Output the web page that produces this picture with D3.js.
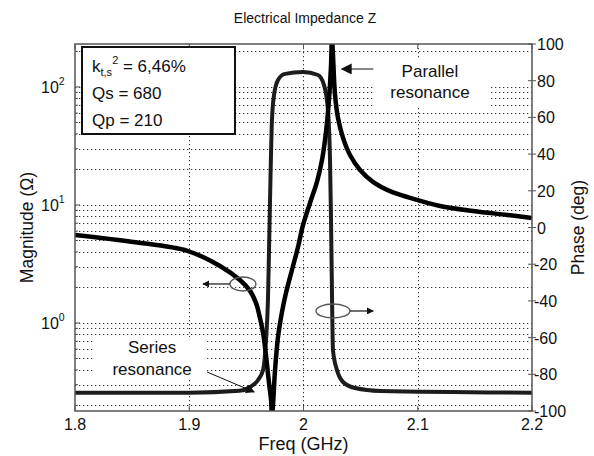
<!DOCTYPE html>
<html>
<head>
<meta charset="utf-8">
<script src="https://cdn.jsdelivr.net/npm/d3@7"></script>
<style>
	body { margin: 0; background: #fff; }
	svg text { font-family: "Liberation Sans", Arial, sans-serif; fill: #111; }
</style>
</head>
<body>
<svg id="viz"></svg>
<script>
// Magnitude |Z| (ohm)
const magFreq = [1.800, 1.8508, 1.8989, 1.9269, 1.9444, 1.9532, 1.9584, 1.9619, 1.9646, 1.9663, 1.9681, 1.9698, 1.9716, 1.9724,
	1.9733, 1.9751, 1.9777, 1.9812, 1.9847, 1.9899, 1.9952, 1.9996, 2.0057, 2.0118, 2.0162, 2.0197, 2.0223, 2.0241, 2.0249,
	2.0258, 2.0276, 2.0302, 2.0346, 2.0407, 2.0495, 2.0608, 2.0757, 2.0932, 2.1195, 2.1484, 2.1781, 2.200];
const magnitude = [5.57, 4.86, 4.07, 3.04, 2.31, 1.87, 1.48, 1.10, 0.823, 0.626, 0.441, 0.310, 0.222, 0.16,
	0.202, 0.400, 0.760, 1.24, 1.80, 2.81, 4.40, 6.77, 10.4, 15.7, 24.1, 41.6, 77.6, 153, 260,
	187, 85.5, 54.6, 37.0, 26.5, 19.8, 15.7, 13.1, 11.5, 9.81, 8.89, 8.23, 7.76];

// Phase (deg)
const phaseFreq = [1.800, 1.900, 1.944, 1.9532, 1.9602, 1.9646, 1.9672, 1.9689, 1.9707, 1.9724, 1.9742,
	1.9777, 1.9838, 1.9996, 2.0127, 2.0179, 2.0214, 2.0232, 2.0241, 2.0250, 2.0258, 2.0293, 2.0346,
	2.0451, 2.067, 2.200];
const phase = [-90, -90, -89, -86.9, -83.1, -77.7, -61.3, -39.5, 15, 58.6, 72.2,
	80.4, 83.7, 84.7, 83.1, 77.7, 64.0, 36.8, 4, -39.5, -66.8, -77.7, -84.2,
	-87.5, -89.1, -90];

const xTicks = [1.8, 1.9, 2.0, 2.1, 2.2];
const magTicks = [1, 10, 100];
const phaseTicks = [100, 80, 60, 40, 20, 0, -20, -40, -60, -80, -100];
const infoLines = ["Qs = 680", "Qp = 210"];

const width = 594, height = 456;
const margin = { top: 44, right: 62, bottom: 45, left: 75 };
const plotWidth = width - margin.left - margin.right;
const plotHeight = height - margin.top - margin.bottom;

const svg = d3.select("#viz").attr("width", width).attr("height", height);

const x = d3.scaleLinear().domain([1.8, 2.2]).range([0, plotWidth]);
const yMag = d3.scaleLog().domain([Math.pow(10, -0.746), Math.pow(10, 2.364)]).range([plotHeight, 0]);
const yPh = d3.scaleLinear().domain([-100, 100]).range([plotHeight, 0]);

svg.append("defs").append("clipPath").attr("id", "clip")
	.append("rect").attr("width", plotWidth).attr("height", plotHeight);

const plot = svg.append("g").attr("transform", translate(margin.left, margin.top));

// grid: log minor lines + freq lines
let gridVals = [];
for (let e = -1; e <= 2; e++) {
	for (let m = 1; m <= 9; m++) {
		let v = m * Math.pow(10, e);
		if (v > yMag.domain()[0] && v < yMag.domain()[1]) gridVals.push(v);
	}
}
const grid = plot.append("g").attr("id", "grid")
	.attr("stroke", "#333").attr("stroke-width", 1).attr("stroke-dasharray", "1.3,2.7");
grid.selectAll("line.h").data(gridVals).join("line").attr("class", "h")
	.attr("x1", 0).attr("x2", plotWidth)
	.attr("y1", d => Math.round(yMag(d)) + 0.5).attr("y2", d => Math.round(yMag(d)) + 0.5);
grid.selectAll("line.v").data(xTicks.slice(1, -1)).join("line").attr("class", "v")
	.attr("x1", d => Math.round(x(d)) + 0.5).attr("x2", d => Math.round(x(d)) + 0.5)
	.attr("y1", 0).attr("y2", plotHeight);

// white boxes behind the labels (they hide the grid)
plot.append("rect").attr("x", x(2.0608)).attr("y", 16).attr("width", 117).attr("height", 48).attr("fill", "#fff");
plot.append("rect").attr("x", x(1.8158)).attr("y", 293).attr("width", 114).attr("height", 43).attr("fill", "#fff");

// curves
const curves = plot.append("g").attr("clip-path", "url(#clip)");
const magLine = d3.line().x((d, i) => x(magFreq[i])).y(d => yMag(d)).curve(d3.curveCatmullRom.alpha(0.5));
const phLine = d3.line().x((d, i) => x(phaseFreq[i])).y(d => yPh(d)).curve(d3.curveMonotoneX);

curves.append("path").attr("d", phLine(phase))
	.attr("fill", "none").attr("stroke", "#1c1c1c").attr("stroke-width", 4).attr("stroke-linejoin", "round");
curves.append("path").attr("d", magLine(magnitude))
	.attr("fill", "none").attr("stroke", "#000").attr("stroke-width", 4.5).attr("stroke-linejoin", "round");

// axes box
plot.append("rect").attr("width", plotWidth).attr("height", plotHeight)
	.attr("fill", "none").attr("stroke", "#555").attr("stroke-width", 1.5);

// x ticks
const xt = plot.append("g").attr("id", "x-axis");
xt.selectAll("line.b").data(xTicks).join("line").attr("class", "b")
	.attr("x1", d => x(d)).attr("x2", d => x(d)).attr("y1", plotHeight).attr("y2", plotHeight - 5)
	.attr("stroke", "#555");
xt.selectAll("line.t").data(xTicks).join("line").attr("class", "t")
	.attr("x1", d => x(d)).attr("x2", d => x(d)).attr("y1", 0).attr("y2", 5)
	.attr("stroke", "#555");
xt.selectAll("text").data(xTicks).join("text")
	.attr("x", d => x(d)).attr("y", plotHeight + 19)
	.attr("text-anchor", "middle").attr("font-size", 16)
	.text(d => d === 2 ? "2" : d3.format(".1f")(d));

// left (log) ticks
const yl = plot.append("g").attr("id", "y-axis-left");
yl.selectAll("line").data(gridVals).join("line")
	.attr("x1", 0).attr("x2", d => magTicks.includes(d) ? 5 : 3)
	.attr("y1", d => yMag(d)).attr("y2", d => yMag(d)).attr("stroke", "#555");
const ylab = yl.selectAll("text").data(magTicks).join("text")
	.attr("x", -34).attr("y", d => yMag(d) + 6).attr("font-size", 16);
ylab.append("tspan").text("10");
ylab.append("tspan").attr("dy", -8).attr("font-size", 10.5).text(d => Math.round(Math.log10(d)));

// right (phase) ticks
const yr = plot.append("g").attr("id", "y-axis-right").attr("transform", translate(plotWidth, 0));
yr.selectAll("line").data(phaseTicks).join("line")
	.attr("x1", -4).attr("x2", 4).attr("y1", d => yPh(d)).attr("y2", d => yPh(d)).attr("stroke", "#555");
yr.selectAll("text").data(phaseTicks).join("text")
	.attr("x", d => d < 0 ? 2 : 5).attr("y", d => yPh(d) + 6).attr("font-size", 16)
	.text(d => d);

// titles
svg.append("text").attr("x", 305).attr("y", 23).attr("text-anchor", "middle").attr("font-size", 14)
	.text("Electrical Impedance Z");
svg.append("text").attr("x", margin.left + plotWidth / 2).attr("y", 450).attr("text-anchor", "middle")
	.attr("font-size", 18).text("Freq (GHz)");
svg.append("text").attr("transform", "translate(33," + (margin.top + plotHeight / 2) + ") rotate(-90)")
	.attr("text-anchor", "middle").attr("font-size", 17.5).text("Magnitude (\u03A9)");
svg.append("text").attr("transform", "translate(584," + (margin.top + plotHeight / 2) + ") rotate(-90)")
	.attr("text-anchor", "middle").attr("font-size", 17.5).text("Phase (deg)");

// info box
const info = plot.append("g").attr("transform", translate(7, 3));
info.append("rect").attr("width", 153).attr("height", 87)
	.attr("fill", "#fff").attr("stroke", "#111").attr("stroke-width", 2);
const k = info.append("text").attr("x", 10).attr("y", 25).attr("font-size", 17);
k.append("tspan").text("k");
k.append("tspan").attr("dy", 4).attr("font-size", 11).text("t,s");
k.append("tspan").attr("dy", -12).attr("font-size", 11).text("2");
k.append("tspan").attr("dy", 8).text(" = 6,46%");
info.selectAll("text.q").data(infoLines).join("text").attr("class", "q")
	.attr("x", 10).attr("y", (d, i) => 52 + i * 27).attr("font-size", 17).text(d => d);

// annotations
const defs = svg.select("defs");
addHead("head", 10, 9);
addHead("headS", 7, 7);
addHead("headL", 13, 11);

const ann = plot.append("g").attr("id", "annotations");
// parallel resonance
ann.append("line").attr("x1", x(2.0612)).attr("y1", yMag(142)).attr("x2", x(2.0335)).attr("y2", yMag(142))
	.attr("stroke", "#111").attr("stroke-width", 1.2).attr("marker-end", "url(#headL)");
ann.append("text").attr("x", x(2.1107)).attr("y", 33).attr("text-anchor", "middle")
	.attr("font-size", 17).text("Parallel");
ann.append("text").attr("x", x(2.1107)).attr("y", 54).attr("text-anchor", "middle")
	.attr("font-size", 17).text("resonance");
// series resonance
ann.append("text").attr("x", x(1.8675)).attr("y", 309).attr("text-anchor", "middle")
	.attr("font-size", 17).text("Series");
ann.append("text").attr("x", x(1.8675)).attr("y", 331).attr("text-anchor", "middle")
	.attr("font-size", 17).text("resonance");
ann.append("line").attr("x1", x(1.9156)).attr("y1", 328).attr("x2", x(1.9568)).attr("y2", 348)
	.attr("stroke", "#111").attr("stroke-width", 1).attr("marker-end", "url(#head)");
// ellipse markers: magnitude -> left axis, phase -> right axis
ann.append("ellipse").attr("cx", x(1.947)).attr("cy", yMag(2.14)).attr("rx", 13).attr("ry", 7)
	.attr("fill", "none").attr("stroke", "#555").attr("stroke-width", 1.4);
ann.append("line").attr("x1", x(1.947) - 13).attr("y1", yMag(2.14)).attr("x2", x(1.912)).attr("y2", yMag(2.14))
	.attr("stroke", "#111").attr("stroke-width", 1.2).attr("marker-end", "url(#headS)");
ann.append("ellipse").attr("cx", x(2.0258)).attr("cy", yPh(-45.5)).attr("rx", 17).attr("ry", 7)
	.attr("fill", "none").attr("stroke", "#555").attr("stroke-width", 1.4);
ann.append("line").attr("x1", x(2.0258) + 17).attr("y1", yPh(-45.5)).attr("x2", x(2.061)).attr("y2", yPh(-45.5))
	.attr("stroke", "#111").attr("stroke-width", 1.2).attr("marker-end", "url(#headS)");

function addHead(id, w, h) {
	defs.append("marker").attr("id", id).attr("viewBox", "0 0 10 10")
		.attr("refX", 9).attr("refY", 5).attr("markerWidth", w).attr("markerHeight", h)
		.attr("markerUnits", "userSpaceOnUse").attr("orient", "auto")
		.append("path").attr("d", "M0,0L10,5L0,10Z").attr("fill", "#111");
}

function translate(a, b) {
	return "translate(" + a + "," + b + ")";
}
</script>
</body>
</html>
